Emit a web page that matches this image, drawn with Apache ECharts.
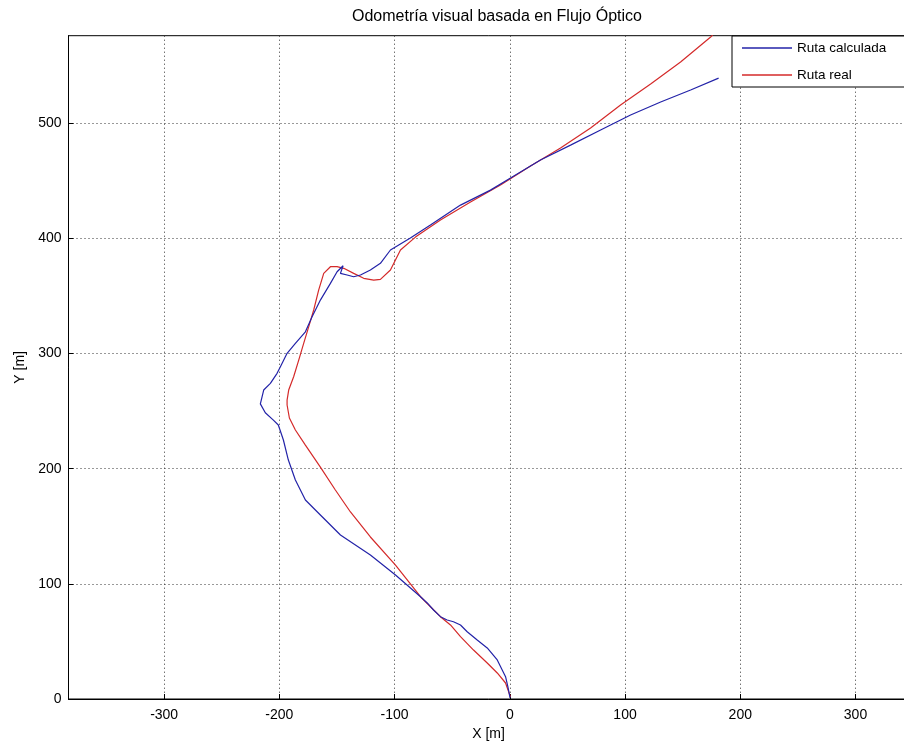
<!DOCTYPE html>
<html>
<head>
<meta charset="utf-8">
<script src="https://cdn.jsdelivr.net/npm/echarts@6/dist/echarts.min.js"></script>
<style>html,body{margin:0;padding:0;background:#fff;overflow:hidden}#c{width:914px;height:747px}</style>
</head>
<body>
<div id="c"></div>
<script>
const titleText = 'Odometría visual basada en Flujo Óptico';
const seriesNames = ['Ruta calculada', 'Ruta real'];
const xAxisName = 'X [m]';
const yAxisName = 'Y [m]';

// Ruta calculada: [x, y] in metres
const rutaCalculada = [
  [0.2, 0.9], [0.6, 1.7], [-1.7, 10.7], [-3.7, 19.4], [-6.6, 25.2], [-10.9, 33.9],
  [-19.6, 44.3], [-28.3, 51.2], [-37, 58.4], [-42.8, 64.3], [-48.9, 67.1], [-54.4, 68.6],
  [-60.2, 71.5], [-66.2, 77.3], [-71.7, 83.4], [-77.5, 88.8], [-99.2, 107.7], [-121, 125],
  [-147, 142.4], [-164.4, 159.8], [-177.4, 172.8], [-186.1, 190.2], [-192.2, 207.5],
  [-196.5, 224.9], [-200.9, 237.9], [-205.2, 242.2], [-212.2, 248.6], [-216.5, 256.3],
  [-213.6, 268.3], [-207.8, 274.1], [-202, 282.8], [-199.1, 288.5], [-193.3, 300.2],
  [-186.1, 308.8], [-177.4, 318.9], [-171.6, 331.9], [-164.4, 346.4], [-155.7, 360.9],
  [-149.9, 371], [-144.7, 376.2], [-147, 369.6], [-141.2, 368.2], [-135.5, 366.7],
  [-129.6, 368.2], [-121, 372.5], [-112.3, 378.3], [-103.6, 389.9], [-86.3, 400.3],
  [-68.9, 411.6], [-42.8, 428.9], [-16.8, 441.9], [0.6, 452.4], [26.6, 468], [52.7, 481],
  [78.8, 494.1], [104.8, 507.1], [130.9, 518.4], [156.9, 528.8], [181.2, 539.2]
];

// Ruta real: [x, y] in metres
const rutaReal = [
  [0.6, 1.7], [-3.7, 13.9], [-10.9, 22.6], [-19.6, 31.3], [-31.5, 42.5], [-42.8, 54.1],
  [-51.5, 64.3], [-60.2, 71.5], [-68.9, 80.1], [-77.5, 88.8], [-99.2, 116.3], [-121, 140.7],
  [-138.3, 162.4], [-151.4, 181.5], [-164.4, 201.4], [-177.4, 220.5], [-186.1, 233.6],
  [-191.3, 244], [-193.3, 255.3], [-193.3, 259.6], [-191.9, 268.3], [-187.6, 279.8],
  [-183.2, 294.3], [-178.9, 308.8], [-174.5, 323.3], [-170.2, 337.8], [-165.9, 355.1],
  [-161.5, 369.6], [-155.7, 375.4], [-149.9, 375.4], [-144.1, 374], [-135.5, 369.6],
  [-126.8, 365.3], [-118.1, 363.8], [-112.3, 364.4], [-103.6, 372.5], [-94.9, 389.9],
  [-81.9, 401.1], [-60.2, 415.9], [-34.1, 431.5], [-8.1, 446.3], [18, 462.8], [44, 478.4],
  [70.1, 495.8], [96.1, 515.8], [122.2, 534], [148.2, 553.1], [174.3, 574.8], [176, 576.5]
];

const xMin = -383, xMax = 346;
const yMin = 0, yMax = 576, yStep = 100;

const FONT = 'Liberation Sans';
const chart = echarts.init(document.getElementById('c'), null, {renderer: 'canvas'});
chart.setOption({
  animation: false,
  backgroundColor: '#ffffff',
  title: {
    text: titleText, left: 347, top: 4,
    textStyle: {fontFamily: FONT, fontSize: 16, fontWeight: 'normal', color: '#000'}
  },
  legend: {
    data: seriesNames, orient: 'vertical', left: 732, top: 36,
    icon: 'rect', itemWidth: 50, itemHeight: 1.3, itemGap: 11,
    backgroundColor: '#fff', borderColor: '#000', borderWidth: 1,
    padding: [4, 40, 4, 10], borderRadius: 0,
    textStyle: {fontFamily: FONT, fontSize: 13.5, color: '#000', lineHeight: 16, padding: [0,0,0,0]}
  },
  grid: {
    left: 68.5, top: 35.7, width: 840, height: 663.3,
    show: true, borderColor: '#000', borderWidth: 1, backgroundColor: '#fff'
  },
  xAxis: {
    type: 'value', min: xMin, max: xMax, splitNumber: 7,
    name: xAxisName, nameLocation: 'middle', nameGap: 26,
    nameTextStyle: {fontFamily: FONT, fontSize: 14, color: '#000'},
    axisLine: {show: true, onZero: false, lineStyle: {color: '#000'}},
    axisTick: {show: true, inside: true, length: 5, lineStyle: {color: '#000'}},
    axisLabel: {fontFamily: FONT, fontSize: 14, color: '#000', margin: 9, showMinLabel: false, showMaxLabel: false},
    splitLine: {show: true, lineStyle: {color: '#333', type: [1, 3], width: 1}}
  },
  yAxis: {
    type: 'value', min: yMin, max: yMax, interval: yStep,
    name: yAxisName, nameLocation: 'middle', nameGap: 38, nameRotate: 90,
    nameTextStyle: {fontFamily: FONT, fontSize: 14, color: '#000'},
    axisLine: {show: true, onZero: false, lineStyle: {color: '#000'}},
    axisTick: {show: true, inside: true, length: 5, lineStyle: {color: '#000'}},
    axisLabel: {fontFamily: FONT, fontSize: 14, color: '#000', margin: 7, showMaxLabel: false},
    splitLine: {show: true, lineStyle: {color: '#333', type: [1, 3], width: 1}}
  },
  series: [
    {name: seriesNames[0], type: 'line', data: rutaCalculada, symbol: 'none', smooth: false,
     lineStyle: {color: '#2323a8', width: 1.2}, itemStyle: {color: '#2323a8'}, z: 3},
    {name: seriesNames[1], type: 'line', data: rutaReal, symbol: 'none', smooth: false,
     lineStyle: {color: '#d42a2a', width: 1.2}, itemStyle: {color: '#d42a2a'}, z: 2}
  ]
});
</script>
</body>
</html>
